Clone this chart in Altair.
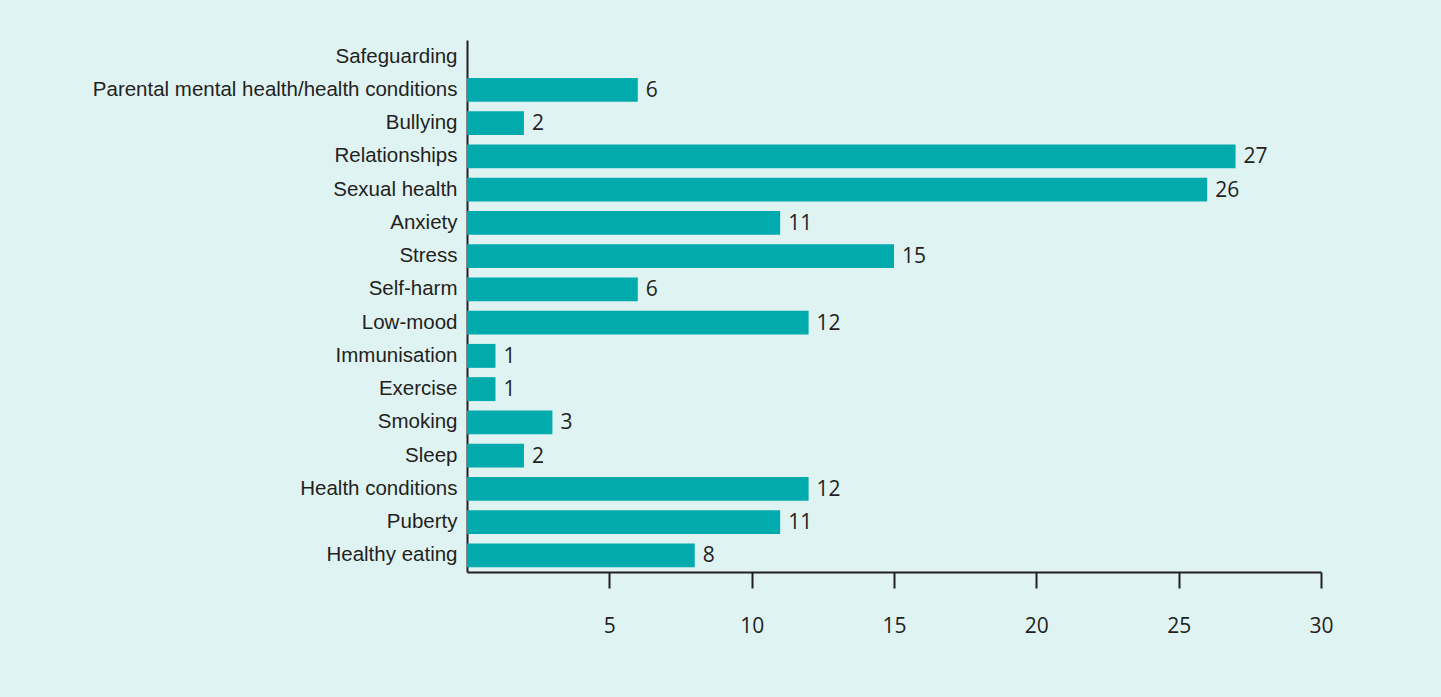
import altair as alt
import pandas as pd

categories = [
    "Safeguarding",
    "Parental mental health/health conditions",
    "Bullying",
    "Relationships",
    "Sexual health",
    "Anxiety",
    "Stress",
    "Self-harm",
    "Low-mood",
    "Immunisation",
    "Exercise",
    "Smoking",
    "Sleep",
    "Health conditions",
    "Puberty",
    "Healthy eating",
]
values = [0, 6, 2, 27, 26, 11, 15, 6, 12, 1, 1, 3, 2, 12, 11, 8]
tick_values = [5, 10, 15, 20, 25, 30]

df = pd.DataFrame({"category": categories, "value": values})
df["label"] = [str(v) if v > 0 else "" for v in values]

BG = "#e0f3f3"
BAR = "#00aaad"
INK = "#231f20"

y = alt.Y(
    "category:N",
    sort=categories,
    title=None,
    scale=alt.Scale(paddingInner=0.28, paddingOuter=0.14),
    axis=alt.Axis(
        ticks=False,
        labelPadding=10,
        labelFontSize=20.5,
        labelFont="Liberation Sans",
        labelColor=INK,
        domainColor=INK,
        domainWidth=2,
        labelLimit=600,
    ),
)
x = alt.X(
    "value:Q",
    title=None,
    scale=alt.Scale(domain=[0, 30], nice=False),
    axis=alt.Axis(
        values=tick_values,
        grid=False,
        tickSize=16,
        tickWidth=2,
        tickColor=INK,
        domainColor=INK,
        domainWidth=2,
        labelPadding=27,
        labelFlush=False,
        labelFontSize=21,
        labelFont="Open Sans",
        labelColor=INK,
    ),
)

bars = alt.Chart(df).mark_bar(color=BAR).encode(x=x, y=y)
text = alt.Chart(df).mark_text(
    align="left", baseline="middle", dx=8, dy=1, fontSize=21, font="Open Sans", color=INK
).encode(x="value:Q", y=alt.Y("category:N", sort=categories), text="label:N")

chart = (
    alt.layer(bars, text)
    .properties(
        width=854,
        height=532,
        autosize=alt.AutoSizeParams(type="none"),
        padding={"left": 467, "top": 40, "right": 120, "bottom": 125},
        background=BG,
    )
    .configure_view(stroke=None)
)

chart.save("out.html", embed_options={"renderer": "svg", "actions": False})
